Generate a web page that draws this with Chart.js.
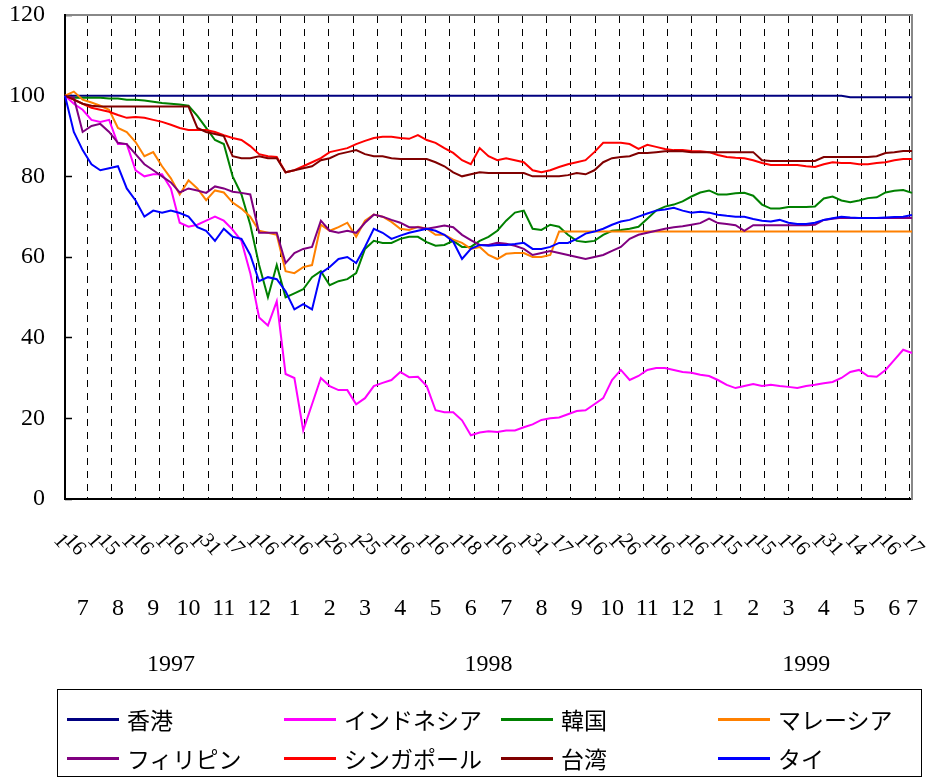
<!DOCTYPE html>
<html><head><meta charset="utf-8">
<script src="https://cdn.jsdelivr.net/npm/chart.js@4.4.1/dist/chart.umd.min.js"></script>
<style>
html,body{margin:0;padding:0;background:#fff;}
#wrap{position:relative;width:927px;height:779px;overflow:hidden;}
#c{position:absolute;left:0;top:0;}
#legend{position:absolute;left:57px;top:689px;width:865px;height:88px;border:1px solid #000;box-sizing:border-box;font-family:"Noto Sans CJK JP","Noto Sans",sans-serif;font-size:23px;color:#000;}
.item{position:absolute;height:30px;display:flex;align-items:center;white-space:nowrap;}
.swatch{width:52px;height:3px;margin-right:8px;}
</style></head>
<body><div id="wrap"><canvas id="c" width="927" height="779"></canvas><div id="legend"></div></div>
<script>
// ---- data ----
const seriesNames = ['香港','インドネシア','韓国','マレーシア','フィリピン','シンガポール','台湾','タイ'];
const seriesColors = ['#000080','#FF00FF','#008000','#FF8000','#800080','#FF0000','#800000','#0000FF'];
const monthLabels = ['7','8','9','10','11','12','1','2','3','4','5','6','7','8','9','10','11','12','1','2','3','4','5','6','7'];
const yearLabels = ['1997','1998','1999'];
const dayLabels = ['1','16','1','15','1','16','1','16','1','31','17','1','16','1','16','1','26','1','25','1','16','1','16','1','18','1','16','1','31','17','1','16','1','26','1','16','1','16','1','15','1','15','1','16','1','31','14','1','16','17'];
const yTicks = [0,20,40,60,80,100,120];

const hongKong = [100,100,100,100,100,100,100,100,100,100,100,100,100,100,100,100,100,100,100,100,100,100,100,100,100,100,100,100,100,100,100,100,100,100,100,100,100,100,100,100,100,100,100,100,100,100,100,100,100,100,100,100,100,100,100,100,100,100,100,100,100,100,100,100,100,100,100,100,100,100,100,100,100,100,100,100,100,100,100,100,100,100,100,100,100,100,100,100,100,99.6,99.6,99.6,99.6,99.6,99.6,99.6,99.6];
const indonesia = [100,98,96.5,94,93.5,94,88,88,81.5,80,80.5,80.5,77,68.5,67.5,68,69,70,69,66.8,64,56,45,43,49,31,30,17,23.5,30,28,27,27,23.5,25,28,28.8,29.5,31.5,30.2,30.3,28,22,21.5,21.5,19.5,15.8,16.5,16.8,16.6,17,17,17.8,18.5,19.6,20,20.2,21,21.8,22,23.5,25,29.5,32,29.5,30.5,32,32.5,32.5,32,31.5,31.3,30.8,30.5,29.5,28.3,27.5,28,28.5,28,28.3,28,27.8,27.5,28,28.3,28.7,29,30,31.5,32,30.5,30.3,32,34.5,37,36.2];
const korea = [100,99.5,99.5,99.5,99.5,99.3,99.3,99,99,98.8,98.5,98.2,98,97.8,97.5,95,92,89,88,80,75.5,68,58,50,58,50,51,52,55,56.5,53,54,54.5,56,62,64,63.5,63.5,64.5,65,65,63.7,62.8,63,64,62.5,62.5,64,65,66.5,69,71,71.5,67,66.7,68,67.5,65.5,64,63.7,64,65.5,66.5,66.7,67,67.5,69.5,71.5,72.5,73,73.8,75,76,76.5,75.5,75.5,75.8,75.9,75.2,73,72,72,72.4,72.4,72.4,72.5,74.5,75,74,73.6,74,74.6,74.8,76,76.4,76.6,75.9];
const malaysia = [100,101,99,98.3,97.5,96.5,92,91,88.5,85,86,82.5,79.5,75.5,79,77,74.1,76.5,76,73.5,72,70,66.5,66,65.5,56.5,56,57.5,58,68,66.5,67.4,68.5,65,69,70.5,70,68.7,67,66.7,67.5,67,65.5,65.5,64.3,63.5,62,62.5,60.5,59.5,60.8,61,61,60,60,60.5,66.3,66.3,66.3,66.3,66.3,66.3,66.3,66.3,66.3,66.3,66.3,66.3,66.3,66.3,66.3,66.3,66.3,66.3,66.3,66.3,66.3,66.3,66.3,66.3,66.3,66.3,66.3,66.3,66.3,66.3,66.3,66.3,66.3,66.3,66.3,66.3,66.3,66.3,66.3,66.3,66.3];
const philippines = [100,99.5,91,92.5,93,91,88.3,88,85.5,83,81.5,80,78.5,76,77,76.5,75.9,77.5,77,76.2,75.9,75.5,66,66,66,58.5,61,62,62.5,69,66.5,66,66.5,66,68.5,70.5,70,69.2,68.5,67.4,67.4,67,67.4,67.8,67.4,65.5,64.2,63,63,63.5,63.3,62.8,62,60.5,61,61.5,61,60.5,60,59.5,60,60.5,61.5,62.5,64.5,65.5,66,66.5,67,67.4,67.6,68,68.4,69.5,68.4,68.2,67.9,66.5,67.9,67.9,67.9,67.9,67.9,67.9,67.9,68,69.2,69.5,69.7,69.7,69.7,69.7,69.7,69.7,69.7,69.7,69.7];
const singapore = [100,99,98,97,96.5,96,95.2,94.5,94.7,94.5,94,93.5,92.8,92,91.5,91.5,91.5,91,90.2,89.5,89,87.5,85.5,85,84.8,81,81.5,82.5,83.5,84.5,86,86.5,87,88,88.8,89.5,89.8,89.8,89.5,89.3,90.2,89,88.3,87,85.8,84,83,87,85,84,84.5,84,83.5,81.5,81,81.5,82.3,83,83.5,84,86,88.3,88.3,88.3,88,86.8,87.8,87.3,86.8,86.5,86.5,86.3,86.2,86,85.3,84.8,84.6,84.5,84,83.3,82.8,82.8,82.8,82.8,82.5,82.3,83,83.5,83.3,83.3,83,83,83.3,83.5,84,84.3,84.3];
const taiwan = [100,99,98,97.5,97.3,97.3,97.3,97.3,97.3,97.3,97.3,97.3,97.3,97.3,97.3,92,91,90.5,90,85,84.5,84.5,85,84.5,84.5,81,81.5,82,82.5,84,84.5,85.5,86,86.5,85.5,85,85,84.5,84.3,84.3,84.3,84.3,83.5,82.5,81,80,80.5,81,80.8,80.8,80.8,80.8,80.8,80,80,80,80,80.3,80.8,80.5,81.5,83.5,84.5,84.8,85,85.8,85.8,86,86.2,86.3,86.2,86,86,86,86,86,86,86,86,84,83.8,83.8,83.8,83.8,83.8,83.8,84.8,84.8,84.8,84.8,84.8,84.8,85,85.8,86,86.3,86.3];
const thailand = [100,91,86.5,83,81.5,82,82.5,77,74,70,71.5,71,71.5,70.9,70,67.4,66.5,64,67,65,64.5,60.5,54,55,54.5,51.5,47,48.3,47,56,57.5,59.5,60,58.5,62.5,67,66,64.5,65.3,66,66.5,67,66.5,65.5,63.8,59.5,62,63,62.8,63,63,63.2,63.5,62,62,62.5,63.5,63.5,64.5,65.8,66.3,67,68,68.8,69.2,70,70.8,71.5,71.8,72.2,71.5,71,71.2,71,70.5,70.2,70,70,69.4,69,68.8,69.2,68.5,68.2,68.2,68.5,69.2,69.6,70,69.8,69.7,69.7,69.7,69.8,69.9,70,70.4];

const seriesValues = [hongKong, indonesia, korea, malaysia, philippines, singapore, taiwan, thailand];

// categories: quarter-month sample dates, Jul 1997 - Jul 1999
const qDays = [1, 8, 16, 23];
const categories = [];
for (let i = 0; i < hongKong.length; i++) {
  const m = Math.floor(i / 4);
  const y = 1997 + Math.floor((6 + m) / 12);
  const mo = (6 + m) % 12 + 1;
  categories.push(y + '/' + mo + '/' + qDays[i % 4]);
}
const lastIdx = categories.length - 1;

// tick label map for the category axis (month row + year row, via blank leading lines)
const tickText = {};
monthLabels.forEach((t, m) => { const idx = Math.min(4 * m + 2, lastIdx); tickText[idx] = ['', '', '', t]; });
const yearIdx = [12, 48, 84];
yearLabels.forEach((t, k) => { tickText[yearIdx[k]] = ['', '', '', '', '', t]; });

// dashed vertical grid positions (index units)
const gridPos = [];
for (let k = 0; k < 35; k++) gridPos.push(2.5 + 2.742 * k);

const SERIF = '"Liberation Serif","Times New Roman",serif';

const dayLabelPlugin = {
  id: 'dayLabels',
  afterDraw(chart) {
    const ctx = chart.ctx;
    const xs = chart.scales.xg;
    ctx.save();
    ctx.font = '21px ' + SERIF;
    ctx.fillStyle = '#000';
    ctx.textBaseline = 'middle';
    ctx.textAlign = 'left';
    // relative advances: short gap after a lone "1", longer gap after the other labels
    const adv = dayLabels.map(t => (t === '1' ? 10 : 22));
    const rel = [0];
    for (let k = 1; k < dayLabels.length; k++) rel.push(rel[k - 1] + adv[k - 1]);
    const x0 = xs.getPixelForValue(-0.9), x1 = xs.getPixelForValue(95.3);
    const sc = (x1 - x0) / rel[rel.length - 1];
    for (let k = 0; k < dayLabels.length; k++) {
      const x = x0 + rel[k] * sc;
      ctx.save();
      ctx.translate(x, 537);
      ctx.rotate(Math.PI * 0.27);
      ctx.fillText(dayLabels[k], 0, 0);
      ctx.restore();
    }
    ctx.restore();
  }
};

const datasets = seriesNames.map((name, i) => ({
  label: name,
  data: seriesValues[i],
  borderColor: seriesColors[i],
  backgroundColor: seriesColors[i],
  borderWidth: 2,
  pointRadius: 0,
  tension: 0,
  order: seriesNames.length - i,
  xAxisID: 'x',
  yAxisID: 'y'
}));

const chart = new Chart(document.getElementById('c'), {
  type: 'line',
  data: { labels: categories, datasets },
  options: {
    responsive: false,
    animation: false,
    devicePixelRatio: 1,
    layout: { padding: { left: 0, top: 15, right: 15, bottom: 90 } },
    plugins: { legend: { display: false }, tooltip: { enabled: false } },
    scales: {
      x: {
        type: 'category',
        position: 'bottom',
        offset: false,
        grid: { display: false },
        border: { display: true, color: '#000', width: 2 },
        ticks: {
          autoSkip: false, maxRotation: 0, minRotation: 0,
          padding: 4,
          color: '#000',
          font: { family: SERIF, size: 24, lineHeight: '28px' },
          callback: (v, i) => (tickText[i] !== undefined ? tickText[i] : '')
        },
        afterFit: s => { s.height = 190; }
      },
      xg: {
        type: 'linear',
        position: 'top',
        min: 0, max: lastIdx,
        afterBuildTicks: s => { s.ticks = gridPos.map(v => ({ value: v })); },
        grid: { display: true, drawOnChartArea: true, drawTicks: false, color: '#000', lineWidth: 1 },
        border: { display: true, color: '#888', width: 2, dash: [7, 6] },
        ticks: { display: false },
        afterFit: s => { s.height = 0; }
      },
      y: {
        type: 'linear',
        position: 'left',
        weight: 1,
        min: 0, max: 120,
        afterBuildTicks: s => { s.ticks = yTicks.map(v => ({ value: v })); },
        grid: { display: true, drawOnChartArea: false, drawTicks: true, tickLength: 20, tickColor: 'rgba(0,0,0,0)' },
        border: { display: true, color: '#000', width: 2 },
        ticks: { padding: 0, color: '#000', font: { family: SERIF, size: 24 } },
        afterFit: s => { s.width = 65; }
      },
      yt: {
        type: 'linear',
        position: 'left',
        weight: 0,
        min: 0, max: 120,
        afterBuildTicks: s => { s.ticks = yTicks.map(v => ({ value: v })); },
        grid: { display: true, drawOnChartArea: false, drawTicks: true, tickLength: -7, tickColor: '#000', tickWidth: 1.5 },
        border: { display: false },
        ticks: { display: false },
        afterFit: s => { s.width = 0; }
      },
      y2: {
        type: 'linear',
        position: 'right',
        min: 0, max: 120,
        grid: { display: false },
        border: { display: true, color: '#888', width: 2 },
        ticks: { display: false },
        afterFit: s => { s.width = 0; }
      }
    }
  },
  plugins: [dayLabelPlugin]
});

// HTML legend built from the chart's datasets
const legend = document.getElementById('legend');
chart.data.datasets.forEach((ds, i) => {
  const col = i % 4, row = Math.floor(i / 4);
  const item = document.createElement('div');
  item.className = 'item';
  item.style.left = (9 + 217 * col) + 'px';
  item.style.top = (14 + 39 * row) + 'px';
  const sw = document.createElement('span');
  sw.className = 'swatch';
  sw.style.background = ds.borderColor;
  const tx = document.createElement('span');
  tx.textContent = ds.label;
  item.appendChild(sw); item.appendChild(tx);
  legend.appendChild(item);
});
</script>
</body></html>
